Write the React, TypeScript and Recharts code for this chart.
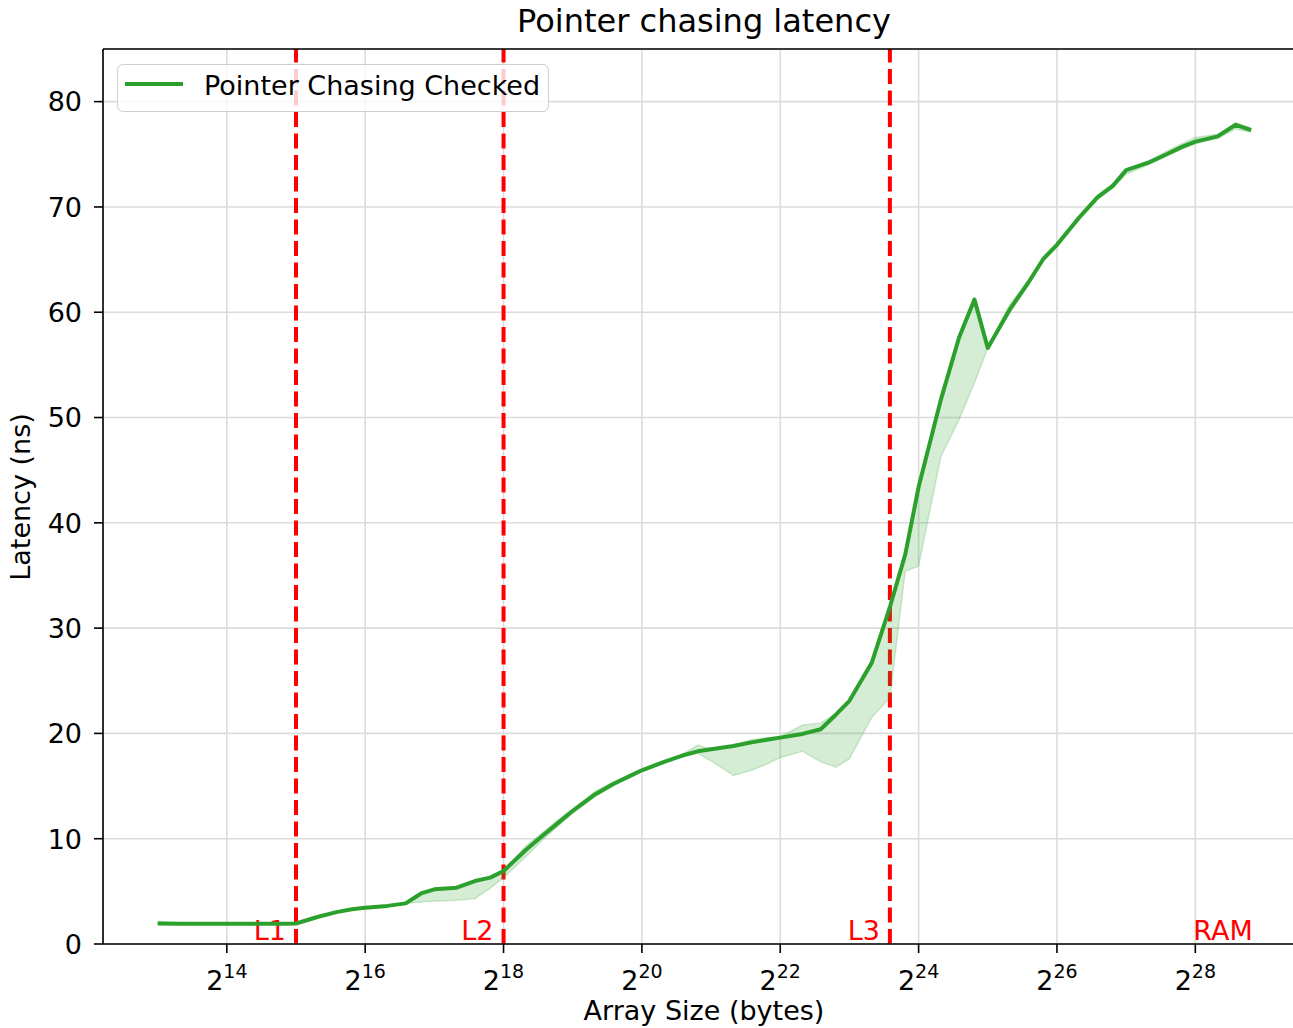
import React from 'react';
import {
  ComposedChart,
  Line,
  Area,
  XAxis,
  YAxis,
  CartesianGrid,
  ReferenceLine,
  Legend,
} from 'recharts';

// Array sizes in bytes (2^k x {1, 1.25, 1.5, 1.75})
const sizes = [
  8192, 10240, 12288, 14336,
  16384, 20480, 24576, 28672,
  32768, 40960, 49152, 57344,
  65536, 81920, 98304, 114688,
  131072, 163840, 196608, 229376,
  262144, 327680, 393216, 458752,
  524288, 655360, 786432, 917504,
  1048576, 1310720, 1572864, 1835008,
  2097152, 2621440, 3145728, 3670016,
  4194304, 5242880, 6291456, 7340032,
  8388608, 10485760, 12582912, 14680064,
  16777216, 20971520, 25165824, 29360128,
  33554432, 41943040, 50331648, 58720256,
  67108864, 83886080, 100663296, 117440512,
  134217728, 167772160, 201326592, 234881024,
  268435456, 335544320, 402653184, 469762048,
];

// Mean latency (ns)
const meanLatency = [
  1.95, 1.93, 1.93, 1.93,
  1.93, 1.93, 1.93, 1.93,
  1.95, 2.59, 3.03, 3.3,
  3.45, 3.62, 3.86, 4.8,
  5.19, 5.35, 5.98, 6.3,
  6.93, 8.93, 10.4, 11.6,
  12.65, 14.2, 15.2, 15.9,
  16.5, 17.3, 17.9, 18.3,
  18.5, 18.8, 19.15, 19.4,
  19.6, 19.95, 20.4, 21.8,
  23.1, 26.7, 32.0, 37.0,
  43.4, 51.7, 57.6, 61.2,
  56.6, 60.3, 62.8, 65.1,
  66.4, 69.0, 70.9, 72.0,
  73.5, 74.2, 75.0, 75.7,
  76.2, 76.7, 77.8, 77.3,
];

// Lower edge of the shaded band (ns)
const minLatency = [
  1.9, 1.9, 1.9, 1.9,
  1.9, 1.9, 1.9, 1.9,
  1.93, 2.55, 3.0, 3.27,
  3.42, 3.6, 3.84, 4.0,
  4.05, 4.15, 4.3, 5.3,
  6.3, 8.3, 10.0, 11.3,
  12.4, 14.0, 15.0, 15.8,
  16.4, 17.2, 17.8, 18.1,
  17.4, 16.0, 16.5, 17.1,
  17.7, 18.3, 17.3, 16.8,
  17.6, 21.5, 23.4, 35.4,
  35.9, 46.3, 49.8, 53.3,
  56.6, 60.0, 62.6, 64.9,
  66.2, 68.8, 70.7, 71.8,
  73.1, 74.0, 74.8, 75.5,
  76.0, 76.5, 77.4, 77.1,
];

// Upper edge of the shaded band (ns)
const maxLatency = [
  2.15, 2.0, 1.97, 1.95,
  1.95, 1.95, 1.95, 1.95,
  1.97, 2.62, 3.06, 3.33,
  3.48, 3.65, 3.9, 4.85,
  5.22, 5.38, 6.0, 6.33,
  7.0, 9.3, 10.7, 11.9,
  12.8, 14.5, 15.4, 16.0,
  16.6, 17.4, 18.0, 18.9,
  18.5, 18.9, 19.4, 19.6,
  19.7, 20.8, 21.0, 21.9,
  23.2, 26.8, 32.1, 37.1,
  43.5, 51.8, 57.8, 61.3,
  56.7, 60.8, 63.0, 65.3,
  66.6, 69.2, 71.1, 72.2,
  73.6, 74.4, 75.3, 76.0,
  76.6, 76.9, 78.0, 77.5,
];

const xTickExponents = [14, 16, 18, 20, 22, 24, 26, 28];
const yTicks = [0, 10, 20, 30, 40, 50, 60, 70, 80];

const cacheNames = ['L1', 'L2', 'L3'];
const cacheSizes = [32768, 262144, 12582912];
const ramName = 'RAM';
const ramSize = 268435456;

const title = 'Pointer chasing latency';
const xLabel = 'Array Size (bytes)';
const yLabel = 'Latency (ns)';
const seriesName = 'Pointer Chasing Checked';

const data = sizes.map((s, i) => ({
  size: s,
  mean: meanLatency[i],
  band: [minLatency[i], maxLatency[i]],
}));

const xTicks = xTickExponents.map((e) => Math.pow(2, e));
const xDomain = [Math.pow(2, 12.21), Math.pow(2, 29.6)];

const FONT = 'DejaVu Sans';
const GREEN = '#2ca02c';

const XTick = (props: any) => {
  const { x, payload } = props;
  const exp = Math.round(Math.log2(payload.value));
  return (
    <text x={x} y={990} textAnchor="middle" fontSize={27} fontFamily={FONT} fill="#000">
      <tspan>2</tspan>
      <tspan fontSize={19} dy={-12}>{exp}</tspan>
    </text>
  );
};

const YTick = (props: any) => {
  const { y, payload } = props;
  return (
    <text x={82} y={y + 9.8} textAnchor="end" fontSize={27} fontFamily={FONT} fill="#000">
      {payload.value}
    </text>
  );
};

const cacheLabel = (name: string, anchor: 'end' | 'start', dx: number) => (props: any) => {
  const vb = props.viewBox || {};
  return (
    <text
      x={vb.x + dx}
      y={940}
      textAnchor={anchor}
      fontSize={27}
      fontFamily={FONT}
      fill="#ff0000"
    >
      {name}
    </text>
  );
};

const LegendBox = () => (
  <div
    style={{
      boxSizing: 'border-box',
      width: 432,
      height: 48,
      border: '1.5px solid #d0d0d0',
      borderRadius: 6,
      background: 'rgba(255,255,255,0.8)',
      position: 'relative',
    }}
  >
    <svg width={430} height={46} style={{ position: 'absolute', left: 0, top: 0 }}>
      <line x1={7} x2={65} y1={19} y2={19} stroke={GREEN} strokeWidth={4} />
      <text x={86} y={30} fontSize={27} fontFamily={FONT} fill="#000">
        {seriesName}
      </text>
    </svg>
  </div>
);

export default function App() {
  return (
    <div
      style={{
        position: 'absolute',
        left: 0,
        top: 0,
        width: 1293,
        height: 1028,
        overflow: 'hidden',
        background: '#fff',
        fontFamily: FONT,
      }}
    >
      <ComposedChart
        width={1306}
        height={1028}
        data={data}
        margin={{ top: 49, right: 0, bottom: 0, left: 0 }}
      >
        <CartesianGrid stroke="#dcdcdc" strokeWidth={1.6} />
        <XAxis
          dataKey="size"
          type="number"
          scale="log"
          domain={xDomain}
          ticks={xTicks}
          allowDataOverflow
          height={84}
          tick={<XTick />}
          tickSize={9}
          tickLine={{ stroke: '#000', strokeWidth: 1.6 }}
          axisLine={{ stroke: '#000', strokeWidth: 1.6 }}
          interval={0}
        />
        <YAxis
          type="number"
          domain={[0, 85]}
          ticks={yTicks}
          allowDataOverflow
          width={103}
          tick={<YTick />}
          tickSize={9}
          tickLine={{ stroke: '#000', strokeWidth: 1.6 }}
          axisLine={{ stroke: '#000', strokeWidth: 1.6 }}
          interval={0}
        />
        <ReferenceLine y={85} stroke="#000" strokeWidth={1.6} />
        {cacheSizes.map((s, i) => (
          <ReferenceLine
            key={cacheNames[i]}
            x={s}
            stroke="#ff0000"
            strokeWidth={4}
            strokeDasharray="15 6.5"
            zIndex={50}
            label={cacheLabel(cacheNames[i], 'end', -10)}
          />
        ))}
        <ReferenceLine
          x={ramSize}
          stroke="none"
          strokeOpacity={0}
          label={cacheLabel(ramName, 'start', -2)}
        />
        <Area
          dataKey="band"
          type="linear"
          fill={GREEN}
          fillOpacity={0.2}
          stroke={GREEN}
          strokeOpacity={0.2}
          strokeWidth={1.5}
          isAnimationActive={false}
          legendType="none"
        />
        <Line
          dataKey="mean"
          name={seriesName}
          type="linear"
          stroke={GREEN}
          strokeWidth={4}
          dot={false}
          activeDot={false}
          strokeLinejoin="round"
          isAnimationActive={false}
        />
        <Legend
          layout="horizontal"
          verticalAlign="middle"
          align="center"
          content={<LegendBox />}
          wrapperStyle={{ left: 117, top: 64, width: 432, height: 48 }}
        />
        <text x={704} y={32} textAnchor="middle" fontSize={32} fontFamily={FONT} fill="#000">
          {title}
        </text>
        <text x={704} y={1020} textAnchor="middle" fontSize={27} fontFamily={FONT} fill="#000">
          {xLabel}
        </text>
        <text
          x={30}
          y={497}
          textAnchor="middle"
          fontSize={27}
          fontFamily={FONT}
          fill="#000"
          transform="rotate(-90, 30, 497)"
        >
          {yLabel}
        </text>
      </ComposedChart>
    </div>
  );
}
